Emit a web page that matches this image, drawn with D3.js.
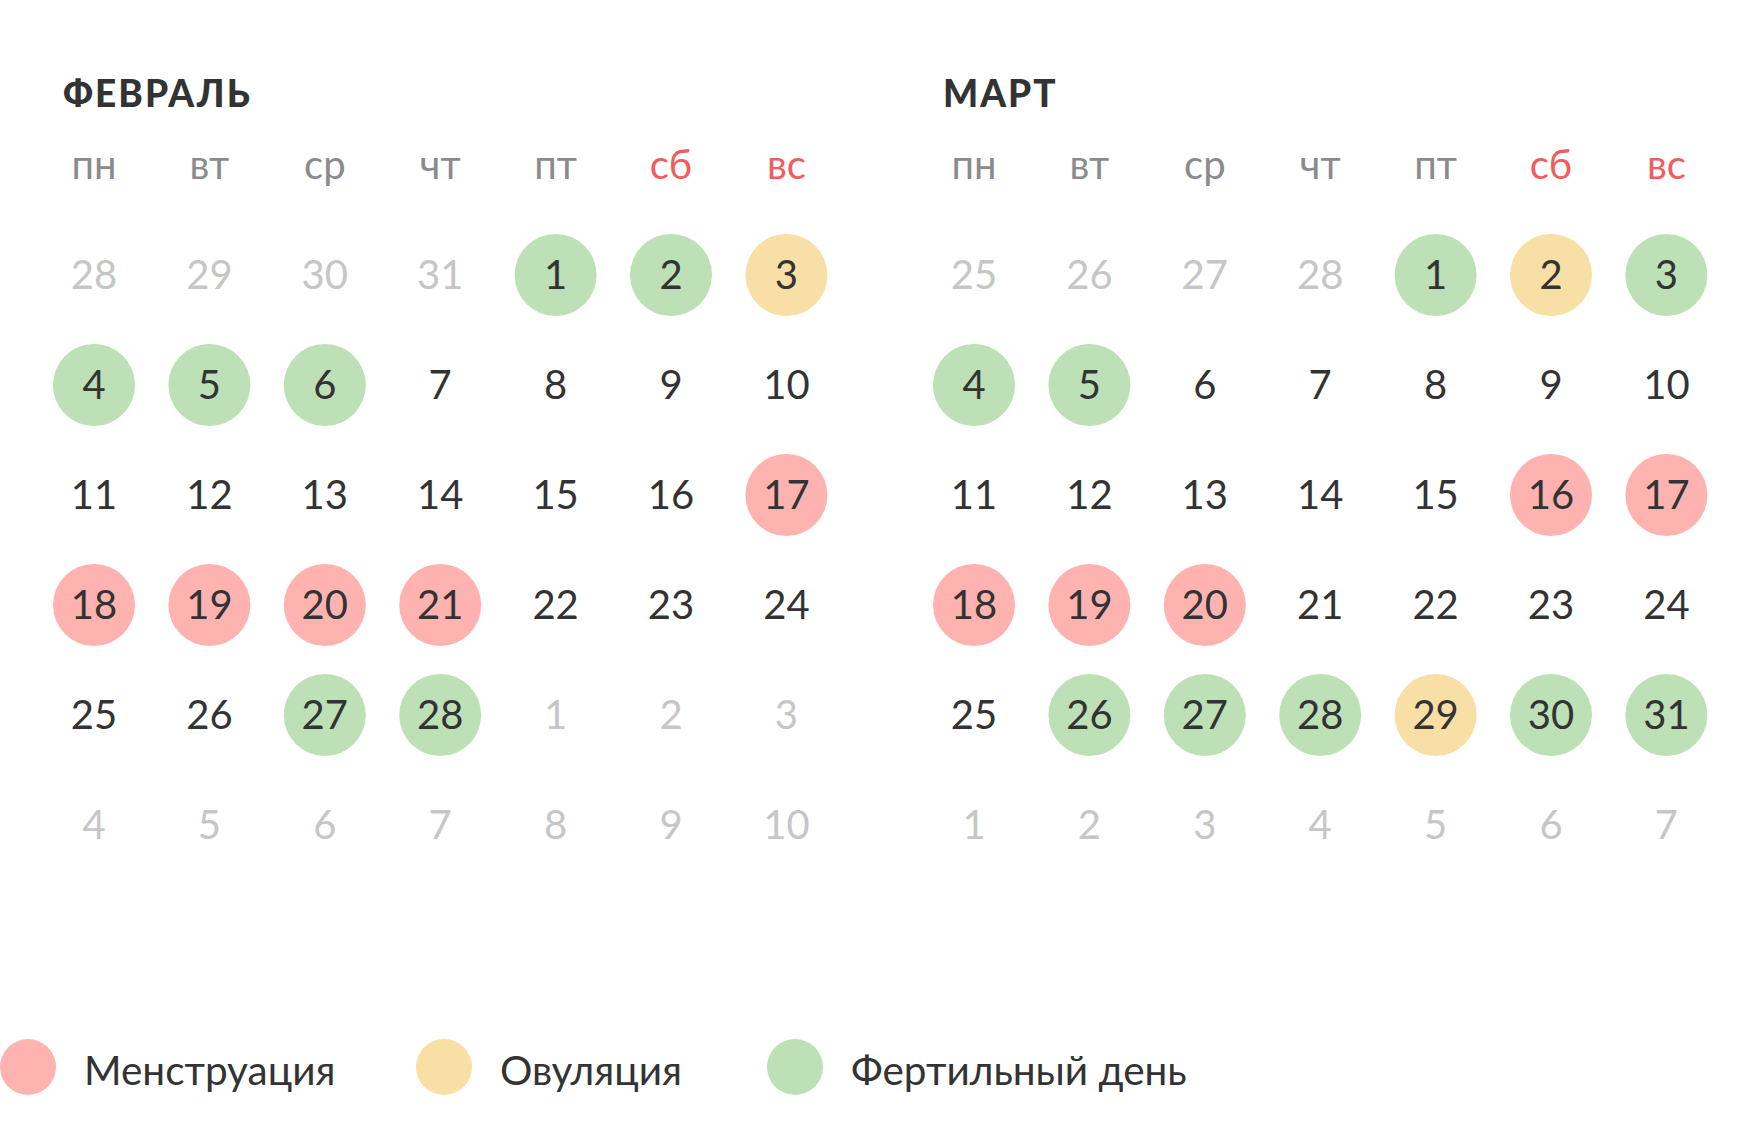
<!DOCTYPE html>
<html>
<head>
<meta charset="utf-8">
<script src="https://cdn.jsdelivr.net/npm/d3@7"></script>
<style>
  html, body { margin: 0; padding: 0; background: #fff; }
  svg { display: block; font-family: Lato, "Open Sans", sans-serif; }
</style>
</head>
<body>
<div id="chart"></div>
<script>
const monthNames = ['ФЕВРАЛЬ', 'МАРТ'];
const weekdays = ['пн', 'вт', 'ср', 'чт', 'пт', 'сб', 'вс'];

const febGrid = [
    [28, 29, 30, 31, 1, 2, 3],
    [4, 5, 6, 7, 8, 9, 10],
    [11, 12, 13, 14, 15, 16, 17],
    [18, 19, 20, 21, 22, 23, 24],
    [25, 26, 27, 28, 1, 2, 3],
    [4, 5, 6, 7, 8, 9, 10]
];
const marGrid = [
    [25, 26, 27, 28, 1, 2, 3],
    [4, 5, 6, 7, 8, 9, 10],
    [11, 12, 13, 14, 15, 16, 17],
    [18, 19, 20, 21, 22, 23, 24],
    [25, 26, 27, 28, 29, 30, 31],
    [1, 2, 3, 4, 5, 6, 7]
];

const febMenstruation = [17, 18, 19, 20, 21];
const febOvulation = [3];
const febFertile = [1, 2, 4, 5, 6, 27, 28];
const marMenstruation = [16, 17, 18, 19, 20];
const marOvulation = [2, 29];
const marFertile = [1, 3, 4, 5, 26, 27, 28, 30, 31];

const legendLabels = ['Менструация', 'Овуляция', 'Фертильный день'];

const colors = {
    menstruation: '#ffb3b1',
    ovulation: '#f8dfa6',
    fertile: '#bde0b6'
};

const width = 1760;
const height = 1135;

const svg = d3.select('#chart')
    .append('svg')
    .attr('width', width)
    .attr('height', height);

const months = [
    {name: monthNames[0], grid: febGrid, menstruation: febMenstruation, ovulation: febOvulation, fertile: febFertile, left: 94},
    {name: monthNames[1], grid: marGrid, menstruation: marMenstruation, ovulation: marOvulation, fertile: marFertile, left: 974}
];

const colStep = 115.4;
const rowStep = 110;
const r = 41;

const y = d3.scalePoint()
    .domain(d3.range(6))
    .range([275, 275 + rowStep * 5]);

months.forEach(function (m) {
    const x = d3.scalePoint()
        .domain(d3.range(7))
        .range([m.left, m.left + colStep * 6]);

    const g = svg.append('g');

    g.append('text')
        .attr('x', m.left - 31)
        .attr('y', 107)
        .attr('font-size', 37)
        .attr('font-weight', 900)
        .attr('letter-spacing', 2)
        .attr('fill', '#333')
        .text(m.name);

    g.selectAll('.wd')
        .data(weekdays)
        .join('text')
        .attr('class', 'wd')
        .attr('x', (d, i) => x(i))
        .attr('y', 179)
        .attr('text-anchor', 'middle')
        .attr('font-size', 40)
        .attr('fill', (d, i) => i >= 5 ? '#f05d5d' : '#8b8b8b')
        .text(d => d);

    const cells = [];
    m.grid.forEach(function (row, ri) {
        row.forEach(function (day, ci) {
            const inMonth = !((ri === 0 && day > 7) || (ri >= 4 && day < 15));
            let status = null;
            if (inMonth) {
                if (m.menstruation.includes(day)) status = 'menstruation';
                else if (m.ovulation.includes(day)) status = 'ovulation';
                else if (m.fertile.includes(day)) status = 'fertile';
            }
            cells.push({day: day, row: ri, col: ci, inMonth: inMonth, status: status});
        });
    });

    g.selectAll('circle')
        .data(cells.filter(d => d.status))
        .join('circle')
        .attr('cx', d => x(d.col))
        .attr('cy', d => y(d.row))
        .attr('r', r)
        .attr('fill', d => colors[d.status]);

    g.selectAll('.day')
        .data(cells)
        .join('text')
        .attr('class', 'day')
        .attr('x', d => x(d.col))
        .attr('y', d => y(d.row) + 14)
        .attr('text-anchor', 'middle')
        .attr('font-size', 40)
        .attr('fill', d => d.inMonth ? '#333' : '#c6c6c6')
        .text(d => d.day);
});

// legend
const legendKeys = ['menstruation', 'ovulation', 'fertile'];
const legendX = [28, 444, 795];

const legend = svg.append('g');
const items = legend.selectAll('g')
    .data(legendKeys)
    .join('g')
    .attr('transform', (d, i) => `translate(${legendX[i]},1067)`);

items.append('circle')
    .attr('r', 28)
    .attr('fill', d => colors[d]);

items.append('text')
    .attr('x', 56)
    .attr('y', 18)
    .attr('font-size', 40.5)
    .attr('fill', '#333')
    .text((d, i) => legendLabels[i]);
</script>
</body>
</html>
